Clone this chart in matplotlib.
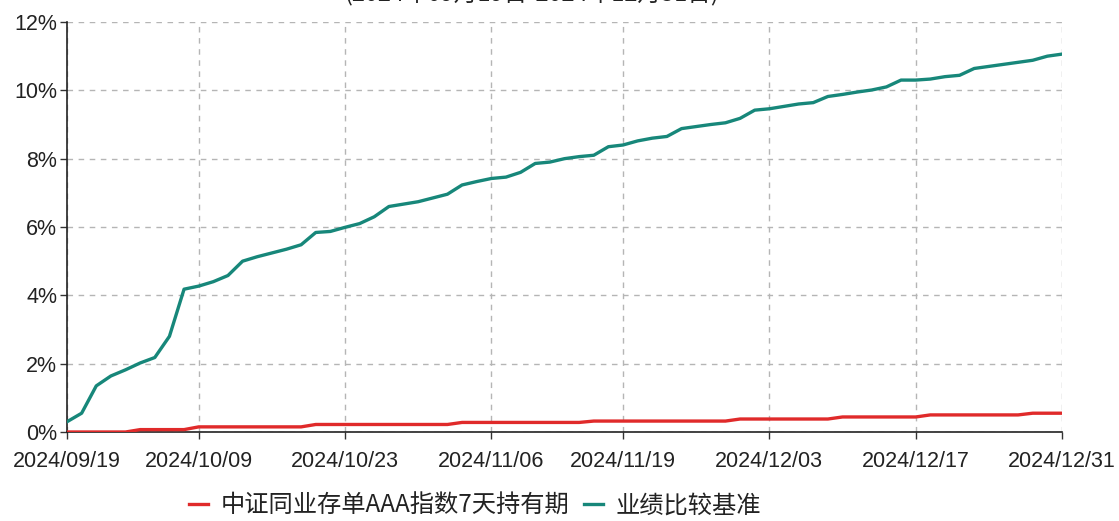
import matplotlib
matplotlib.use("Agg")
import matplotlib.pyplot as plt
from matplotlib.ticker import FuncFormatter

plt.rcParams['font.family'] = ['Noto Sans CJK SC', 'DejaVu Sans']

# trading days, 2024/09/19 - 2024/12/31
dates = ['2024/09/19', '2024/09/20', '2024/09/23', '2024/09/24', '2024/09/25',
         '2024/09/26', '2024/09/27', '2024/09/30', '2024/10/08', '2024/10/09',
         '2024/10/10', '2024/10/11', '2024/10/14', '2024/10/15', '2024/10/16',
         '2024/10/17', '2024/10/18', '2024/10/21', '2024/10/22', '2024/10/23',
         '2024/10/24', '2024/10/25', '2024/10/28', '2024/10/29', '2024/10/30',
         '2024/10/31', '2024/11/01', '2024/11/04', '2024/11/05', '2024/11/06',
         '2024/11/07', '2024/11/08', '2024/11/11', '2024/11/12', '2024/11/13',
         '2024/11/14', '2024/11/15', '2024/11/18', '2024/11/19', '2024/11/20',
         '2024/11/21', '2024/11/22', '2024/11/25', '2024/11/26', '2024/11/27',
         '2024/11/28', '2024/11/29', '2024/12/02', '2024/12/03', '2024/12/04',
         '2024/12/05', '2024/12/06', '2024/12/09', '2024/12/10', '2024/12/11',
         '2024/12/12', '2024/12/13', '2024/12/16', '2024/12/17', '2024/12/18',
         '2024/12/19', '2024/12/20', '2024/12/23', '2024/12/24', '2024/12/25',
         '2024/12/26', '2024/12/27', '2024/12/30', '2024/12/31']

# 业绩比较基准 (%)
bench = [0.30, 0.55, 1.35, 1.64, 1.82, 2.02, 2.18, 2.80, 4.18, 4.27,
         4.40, 4.58, 5.00, 5.13, 5.24, 5.35, 5.48, 5.84, 5.87, 5.99,
         6.10, 6.30, 6.60, 6.67, 6.74, 6.85, 6.96, 7.23, 7.33, 7.42,
         7.46, 7.60, 7.86, 7.90, 8.00, 8.06, 8.10, 8.35, 8.40, 8.52,
         8.60, 8.65, 8.88, 8.94, 9.00, 9.05, 9.18, 9.42, 9.46, 9.53,
         9.60, 9.64, 9.82, 9.88, 9.95, 10.01, 10.10, 10.30, 10.30, 10.33,
         10.40, 10.44, 10.64, 10.70, 10.76, 10.82, 10.88, 11.00, 11.06]

# 中证同业存单AAA指数7天持有期 (%)
index7d = [0.00, 0.00, 0.00, 0.00, 0.00, 0.07, 0.07, 0.07, 0.07, 0.15,
           0.15, 0.15, 0.15, 0.15, 0.15, 0.15, 0.15, 0.22, 0.22, 0.22,
           0.22, 0.22, 0.22, 0.22, 0.22, 0.22, 0.22, 0.28, 0.28, 0.28,
           0.28, 0.28, 0.28, 0.28, 0.28, 0.28, 0.32, 0.32, 0.32, 0.32,
           0.32, 0.32, 0.32, 0.32, 0.32, 0.32, 0.38, 0.38, 0.38, 0.38,
           0.38, 0.38, 0.38, 0.44, 0.44, 0.44, 0.44, 0.44, 0.44, 0.50,
           0.50, 0.50, 0.50, 0.50, 0.50, 0.50, 0.55, 0.55, 0.55]

tick_labels = ['2024/09/19', '2024/10/09', '2024/10/23', '2024/11/06',
               '2024/11/19', '2024/12/03', '2024/12/17', '2024/12/31']
y_ticks = [0, 2, 4, 6, 8, 10, 12]

x = list(range(len(dates)))

fig = plt.figure(figsize=(11.19, 5.21), dpi=100)
ax = fig.add_axes([67 / 1119, 1 - 432 / 521, (1062 - 67) / 1119, (432 - 22) / 521])

ax.plot(x, index7d, color='#e02a2a', lw=2.4, label='中证同业存单AAA指数7天持有期', zorder=3)
ax.plot(x, bench, color='#17877a', lw=2.4, label='业绩比较基准', zorder=3)

ax.set_xlim(0, len(dates) - 1)
ax.set_ylim(0, 12)
ax.set_xticks([dates.index(d) for d in tick_labels])
ax.set_xticklabels(tick_labels)
ax.set_yticks(y_ticks)
ax.yaxis.set_major_formatter(FuncFormatter(lambda v, p: '%d%%' % v))

for lab in ax.get_xticklabels() + ax.get_yticklabels():
    lab.set_fontfamily(['Liberation Sans', 'DejaVu Sans'])
    lab.set_fontsize(15.5)
    lab.set_color('#222222')
ax.tick_params(axis='x', direction='out', length=5, width=1, color='#333333', pad=9)
ax.tick_params(axis='y', direction='out', length=5, width=1, color='#333333', pad=2)

ax.grid(True, color='#b5b5b5', linestyle=(0, (4, 4)), lw=1)
ax.set_axisbelow(True)
for s in ['top', 'right']:
    ax.spines[s].set_visible(False)
for s in ['left', 'bottom']:
    ax.spines[s].set_color('#222222')
    ax.spines[s].set_linewidth(1.2)

leg = fig.legend(loc='center', bbox_to_anchor=(475 / 1119, 1 - 506 / 521), ncol=2,
                 frameon=False, fontsize=17.5, handlelength=0.8, handletextpad=0.5,
                 columnspacing=0.6)
for t in leg.get_texts():
    t.set_color('#222222')

# title is cut off at the top edge of the picture
fig.text(532 / 1119, 1 - 6 / 521, '(2024年09月19日-2024年12月31日)', ha='center',
         va='bottom', fontsize=17, color='#222222')

fig.savefig('out.png', dpi=100)
